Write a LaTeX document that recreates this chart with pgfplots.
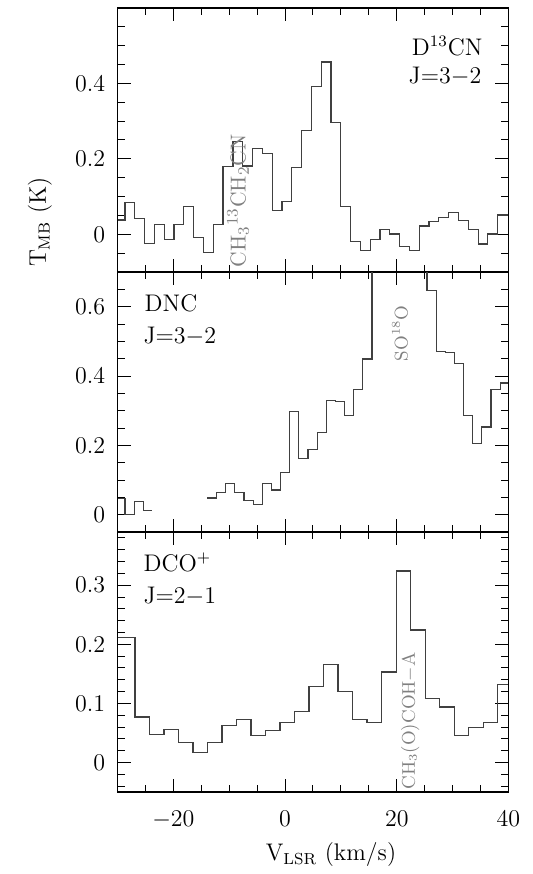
\documentclass[border=0pt]{standalone}
\usepackage{pgfplots}
\pgfplotsset{compat=1.18}
\newcommand{\bigf}{\fontsize{12}{14}\selectfont}
\newcommand{\lab}{\fontsize{9.2}{10}\selectfont}
\begin{document}
\begin{tikzpicture}[x=1pt,y=1pt]
\useasboundingbox (0,0) rectangle (266.5,437);
\pgfplotsset{
  panel/.style={
    scale only axis, width=195.5pt,
    anchor=south west,
    xmin=-30, xmax=40,
    xtick={-20,0,20,40},
    minor xtick={-25,-15,-10,-5,5,10,15,25,30,35},
    tick align=inside, xtick pos=both, ytick pos=both,
    major tick length=6.5pt, minor tick length=3.5pt,
    every tick/.style={black, line width=0.5pt},
    axis line style={line width=0.8pt},
    tick label style={font=\bigf},
    yticklabel style={anchor=east, inner sep=0pt, xshift=-6pt},
    clip=true,
  },
  hist/.style={const plot, mark=none, black!75, line width=0.6pt},
}

% D13CN
\begin{axis}[panel, at={(58.75pt,301pt)}, height=132pt,
  ymin=-0.1, ymax=0.6, ytick={0,0.2,0.4},
  minor ytick={-0.05,0.05,0.1,0.15,0.25,0.3,0.35,0.45,0.5,0.55},
  xticklabels={}]
\addplot[hist] coordinates {
 (-30,0.038) (-28.66,0.084) (-26.90,0.041) (-25.15,-0.024) (-23.39,0.025)
 (-21.64,-0.013) (-19.88,0.025) (-18.12,0.073) (-16.37,-0.009) (-14.61,-0.049)
 (-12.86,0.025) (-11.10,0.179) (-9.34,0.245) (-7.59,0.181) (-5.83,0.228)
 (-4.08,0.215) (-2.32,0.063) (-0.56,0.087) (1.19,0.177) (2.95,0.275)
 (4.70,0.391) (6.46,0.457) (8.22,0.296) (9.97,0.073) (11.73,-0.019)
 (13.48,-0.043) (15.24,-0.013) (17.00,0.013) (18.75,0.001) (20.51,-0.033)
 (22.26,-0.043) (24.02,0.022) (25.78,0.033) (27.53,0.045) (29.29,0.057)
 (31.04,0.036) (32.80,0.013) (34.56,-0.026) (36.31,0.001) (38.07,0.051)
 (40,0.051)
};
\node[anchor=base east, font=\bigf, inner sep=0pt] at (axis cs:35.4,0.475) {D$^{13}$CN};
\node[anchor=base east, font=\bigf, inner sep=0pt] at (axis cs:35.2,0.40) {J=3$-$2};
\node[rotate=90, anchor=west, inner sep=0pt, font=\fontsize{10.8}{12}\selectfont, text=black!50] at (axis cs:-8.4,-0.088)
  {CH$_3$$^{13}$CH$_2$CN};
\end{axis}

% DNC
\begin{axis}[panel, at={(58.75pt,171pt)}, height=130pt,
  ymin=-0.05, ymax=0.7, ytick={0,0.2,0.4,0.6},
  minor ytick={0.05,0.1,0.15,0.25,0.3,0.35,0.45,0.5,0.55,0.65},
  xticklabels={}]
\addplot[hist] coordinates {
 (-30,0.046) (-28.66,0.0) (-27.02,0.039) (-25.38,0.012) (-23.74,0.012)
};
\addplot[hist] coordinates {
 (-13.91,0.048) (-12.28,0.063) (-10.64,0.089) (-9.00,0.063) (-7.36,0.042)
 (-5.72,0.029) (-4.09,0.089) (-2.45,0.071) (-0.81,0.121) (0.83,0.298)
 (2.47,0.162) (4.10,0.188) (5.74,0.236) (7.38,0.329) (9.02,0.327)
 (10.66,0.286) (12.29,0.362) (13.93,0.449) (15.57,0.80) (17.21,0.95)
 (18.85,1.05) (20.49,1.0) (22.12,0.9) (23.76,0.78) (25.40,0.647)
 (27.04,0.470) (28.68,0.467) (30.32,0.435) (31.95,0.286) (33.59,0.205)
 (35.23,0.253) (36.87,0.362) (38.51,0.380) (40,0.380)
};
\node[anchor=base west, font=\bigf, inner sep=0pt] at (axis cs:-25.2,0.587) {DNC};
\node[anchor=base west, font=\bigf, inner sep=0pt] at (axis cs:-25.4,0.494) {J=3$-$2};
\node[rotate=90, anchor=west, inner sep=0pt, font=\lab, text=black!50] at (axis cs:20.6,0.442)
  {SO$^{18}$O};
\end{axis}

% DCO+
\begin{axis}[panel, at={(58.75pt,41pt)}, height=130pt,
  ymin=-0.05, ymax=0.39, ytick={0,0.1,0.2,0.3},
  minor ytick={-0.04,-0.02,0.02,0.04,0.06,0.08,0.12,0.14,0.16,0.18,0.22,0.24,0.26,0.28,0.32,0.34,0.36,0.38},
  xticklabel style={anchor=base, yshift=-17.3pt}]
\addplot[hist] coordinates {
 (-30,0.212) (-26.87,0.077) (-24.27,0.047) (-21.68,0.056) (-19.08,0.034)
 (-16.48,0.017) (-13.89,0.034) (-11.29,0.063) (-8.69,0.073) (-6.09,0.046)
 (-3.50,0.054) (-0.90,0.067) (1.70,0.086) (4.30,0.129) (6.89,0.166)
 (9.49,0.120) (12.09,0.073) (14.68,0.068) (17.28,0.153) (19.88,0.324)
 (22.48,0.224) (25.07,0.108) (27.67,0.094) (30.27,0.046) (32.86,0.059)
 (35.46,0.068) (38.06,0.132) (40,0.132)
};
\node[anchor=base west, font=\bigf, inner sep=0pt] at (axis cs:-25.4,0.323) {DCO$^+$};
\node[anchor=base west, font=\bigf, inner sep=0pt] at (axis cs:-25.4,0.269) {J=2$-$1};
\node[rotate=90, anchor=west, inner sep=0pt, font=\lab, text=black!50] at (axis cs:22.4,-0.046)
  {CH$_3$(O)COH$-$A};
\end{axis}

\node[rotate=90, font=\bigf] at (20pt,326pt) {T$_{\mathrm{MB}}$ (K)};
\node[anchor=base, font=\bigf] at (165.5pt,6.5pt) {V$_{\mathrm{LSR}}$ (km/s)};
\end{tikzpicture}
\end{document}
